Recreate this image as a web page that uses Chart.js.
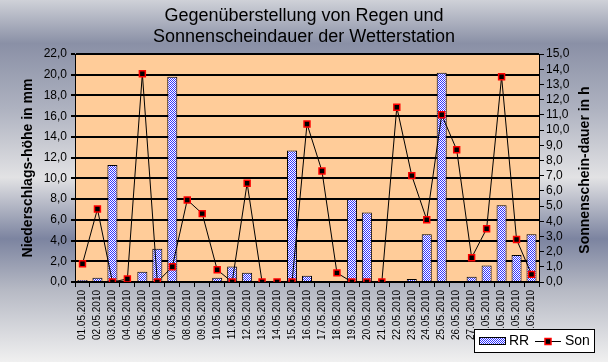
<!DOCTYPE html>
<html>
<head>
<meta charset="utf-8">
<script src="https://cdn.jsdelivr.net/npm/chart.js@4"></script>
<style>
  body { margin: 0; background: #fff; }
  canvas { display: block; }
</style>
</head>
<body>
<canvas id="wetter_chart" width="608" height="362"></canvas>
<script>
const days = ['01.05.2010', '02.05.2010', '03.05.2010', '04.05.2010', '05.05.2010', '06.05.2010',
  '07.05.2010', '08.05.2010', '09.05.2010', '10.05.2010', '11.05.2010', '12.05.2010',
  '13.05.2010', '14.05.2010', '15.05.2010', '16.05.2010', '17.05.2010', '18.05.2010',
  '19.05.2010', '20.05.2010', '21.05.2010', '22.05.2010', '23.05.2010', '24.05.2010',
  '25.05.2010', '26.05.2010', '27.05.2010', '28.05.2010', '29.05.2010', '30.05.2010', '31.05.2010'];
// Niederschlag in mm
const rr = [0.2, 0.4, 11.3, 0.1, 1.0, 3.2, 19.8, 0, 0, 0.4, 1.5, 0.9, 0, 0, 12.7, 0.6,
  0, 0, 8.0, 6.7, 0, 0, 0.3, 4.6, 20.2, 0, 0.5, 1.6, 7.4, 2.6, 4.6];
// Sonnenscheindauer in h
const son = [1.2, 4.8, 0.0, 0.2, 13.7, 0.0, 1.0, 5.4, 4.5, 0.8, 0.0, 6.5, 0.0, 0.0, 0.0, 10.4,
  7.3, 0.6, 0.0, 0.0, 0.0, 11.5, 7.0, 4.1, 11.0, 8.7, 1.6, 3.5, 13.5, 2.8, 0.5];

const titleLines = ['Gegenüberstellung von Regen und', 'Sonnenscheindauer der Wetterstation'];

const narrow = "'Liberation Sans Narrow', 'Arial Narrow', 'Liberation Sans', sans-serif";
const sans = "'Liberation Sans', Arial, sans-serif";

function comma(v) {
    return Number(v).toFixed(1).replace('.', ',');
}

// blue / white checker like the excel pattern fill
function makePattern() {
    const c = document.createElement('canvas');
    c.width = 2;
    c.height = 2;
    const p = c.getContext('2d');
    p.fillStyle = '#ffffff';
    p.fillRect(0, 0, 2, 2);
    p.fillStyle = '#3333ff';
    p.fillRect(0, 0, 1, 1);
    p.fillRect(1, 1, 1, 1);
    return p.createPattern(c, 'repeat');
}
const rrPattern = makePattern();

const background = {
    id: 'background',
    beforeDraw(chart) {
        const { ctx, width, height, chartArea: a } = chart;
        ctx.save();
        const g = ctx.createLinearGradient(0, 0, 0, height);
        g.addColorStop(0, '#cfd1d8');
        g.addColorStop(0.12, '#8a90a6');
        g.addColorStop(0.3, '#aeb2c0');
        g.addColorStop(0.49, '#e2e2e4');
        g.addColorStop(0.66, '#7c84a0');
        g.addColorStop(0.8, '#b6b9c4');
        g.addColorStop(1, '#f0f0f0');
        ctx.fillStyle = g;
        ctx.fillRect(0, 0, width, height);
        ctx.fillStyle = '#ffcc99';
        ctx.fillRect(a.left, a.top, a.right - a.left, a.bottom - a.top);
        ctx.restore();
    }
};

// right axis title reads bottom to top like the left one
const rightTitle = {
    id: 'rightTitle',
    afterDraw(chart) {
        const { ctx, chartArea: a } = chart;
        ctx.save();
        ctx.translate(585, (a.top + a.bottom) / 2 + 2);
        ctx.rotate(-Math.PI / 2);
        ctx.fillStyle = '#000';
        ctx.font = 'bold 14px ' + sans;
        ctx.textAlign = 'center';
        ctx.textBaseline = 'middle';
        ctx.fillText(chart.options.scales.y1.title.text, 0, 0);
        ctx.restore();
    }
};

const legendBox = {
    id: 'legendBox',
    afterDraw(chart) {
        const ctx = chart.ctx;
        const bar = chart.data.datasets[1];
        const line = chart.data.datasets[0];
        ctx.save();
        ctx.fillStyle = '#ffffff';
        ctx.fillRect(474.5, 329.5, 120, 23);
        ctx.strokeStyle = '#000';
        ctx.lineWidth = 1;
        ctx.strokeRect(474.5, 329.5, 120, 23);
        ctx.fillStyle = bar.backgroundColor;
        ctx.fillRect(479.5, 337.5, 26, 7);
        ctx.strokeRect(479.5, 337.5, 26, 7);
        ctx.fillStyle = '#000';
        ctx.font = '14px ' + sans;
        ctx.textBaseline = 'middle';
        ctx.fillText(bar.label, 509, 341.5);
        ctx.fillText(line.label, 565, 341.5);
        ctx.beginPath();
        ctx.moveTo(535, 341.5);
        ctx.lineTo(561, 341.5);
        ctx.stroke();
        ctx.fillStyle = '#000';
        ctx.fillRect(545, 338.5, 6, 6);
        ctx.strokeStyle = '#ff0000';
        ctx.lineWidth = 1.5;
        ctx.strokeRect(545, 338.5, 6, 6);
        ctx.restore();
    }
};

function createChart() {
    new Chart(
        document.getElementById('wetter_chart'),
        {
          type: 'bar',
          data: {
            labels: days,
            datasets: [
              {
                type: 'line',
                label: 'Son',
                data: son,
                yAxisID: 'y1',
                borderColor: '#000000',
                borderWidth: 1,
                tension: 0,
                pointStyle: 'rect',
                pointRadius: 4.2,
                pointBackgroundColor: '#000000',
                pointBorderColor: '#ff0000',
                pointBorderWidth: 1.5,
                order: 0
              },
              {
                label: 'RR',
                data: rr,
                yAxisID: 'y',
                backgroundColor: rrPattern,
                borderColor: '#000000',
                borderWidth: 1,
                borderSkipped: 'bottom',
                categoryPercentage: 1,
                barPercentage: 0.67,
                order: 1
              }
            ]
          },
          options: {
            responsive: false,
            animation: false,
            devicePixelRatio: 1,
            layout: { padding: 0 },
            plugins: {
              legend: { display: false },
              tooltip: { enabled: false },
              title: {
                display: true,
                text: titleLines,
                color: '#000',
                font: { family: sans, size: 18, weight: 'normal', lineHeight: 1.167 },
                padding: { top: 6, bottom: 6 }
              }
            },
            scales: {
              x: {
                offset: true,
                grid: { offset: true, drawOnChartArea: false, color: '#000', tickLength: 5 },
                border: { color: '#000' },
                ticks: {
                  autoSkip: false, minRotation: 90, maxRotation: 90, padding: 3,
                  color: '#000', font: { family: narrow, size: 10 }
                },
                afterFit(s) { s.height = 80; }
              },
              y: {
                position: 'left',
                min: 0,
                max: 22,
                ticks: { stepSize: 2, autoSkip: false, callback: comma, color: '#000', padding: 4, font: { family: sans, size: 12 } },
                grid: { color: '#000', lineWidth: 2, tickLength: 4 },
                border: { color: '#000', width: 1 },
                title: {
                  display: true, text: 'Niederschlags-höhe in mm', color: '#000',
                  font: { family: sans, size: 14, weight: 'bold' },
                  padding: { top: 20, bottom: 0 }
                },
                afterFit(s) { s.width = 75; }
              },
              y1: {
                position: 'right',
                min: 0,
                max: 15,
                ticks: { stepSize: 1, autoSkip: false, callback: comma, color: '#000', padding: 2, font: { family: sans, size: 12 } },
                grid: { drawOnChartArea: false, color: '#000', tickLength: 5 },
                border: { color: '#000', width: 1 },
                title: { display: false, text: 'Sonnenschein-dauer in h' },
                afterFit(s) { s.width = 69; }
              }
            }
          },
          plugins: [background, rightTitle, legendBox]
        }
      );
}

createChart();
</script>
</body>
</html>
